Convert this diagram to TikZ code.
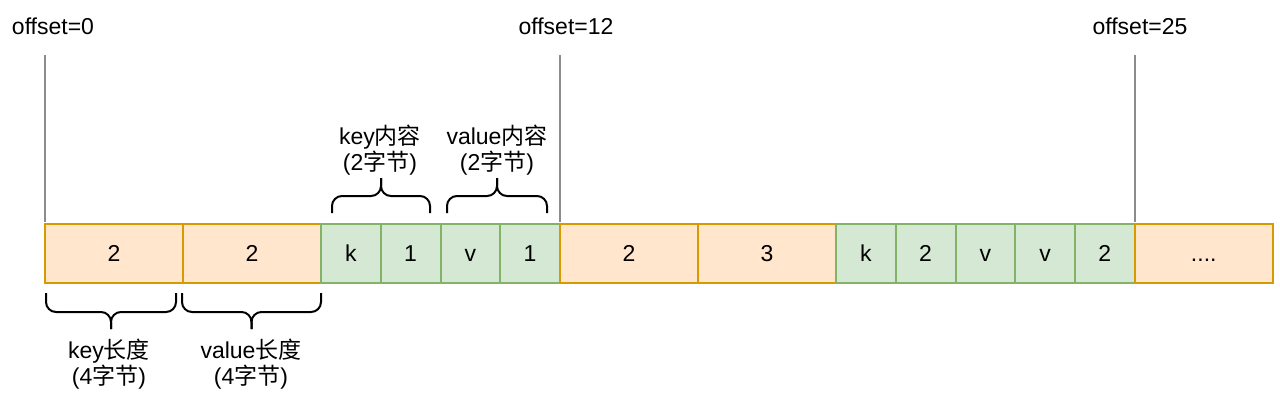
\documentclass[tikz,border=0pt]{standalone}
\usepackage{fontspec}
\setmainfont{Liberation Sans}
\newfontfamily\cjk{Noto Sans CJK SC}
\usepackage{xcolor}
\usepackage{tikz}
\usetikzlibrary{positioning}

\definecolor{lenfill}{HTML}{FFE6CC}
\definecolor{lenline}{HTML}{D79B00}
\definecolor{datfill}{HTML}{D5E8D4}
\definecolor{datline}{HTML}{82B366}
\definecolor{guidegray}{HTML}{8C8C8C}

% curly bracket: x1, x2, y of ends, y of bar, y of tip
\newcommand{\curlybracket}[5]{%
  \draw[bracket] (#1,#3) -- (#1,#4) -- ({(#1+#2)/2},#4) -- ({(#1+#2)/2},#5);
  \draw[bracket] (#2,#3) -- (#2,#4) -- ({(#1+#2)/2},#4) -- ({(#1+#2)/2},#5);
}

\begin{document}
\begin{tikzpicture}[
  x=1pt, y=-1pt,
  cell/.style={rectangle, draw, line width=2pt, inner sep=0pt, outer sep=0pt, minimum height=59pt, text height=16.5pt, text depth=0pt, font=\fontsize{23}{26}\selectfont},
  lencell/.style={cell, fill=lenfill, draw=lenline, minimum width=138pt},
  datcell/.style={cell, fill=datfill, draw=datline, minimum width=59.75pt},
  note/.style={align=center, inner sep=0pt, font=\fontsize{23}{26}\selectfont},
  guide/.style={draw=guidegray, line width=1.5pt},
  bracket/.style={draw=black, line width=2pt, rounded corners=10pt}
]
\useasboundingbox (0,0) rectangle (1280,407);

% First entry
\node[lencell, anchor=north west] (c1) at (45,224) {2};
\node[lencell, right=0pt of c1] (c2) {2};
\node[datcell, right=0pt of c2] (c3) {k};
\node[datcell, right=0pt of c3] (c4) {1};
\node[datcell, right=0pt of c4] (c5) {v};
\node[datcell, right=0pt of c5] (c6) {1};

% Second entry
\node[lencell, right=0pt of c6] (c7) {2};
\node[lencell, right=0pt of c7] (c8) {3};
\node[datcell, right=0pt of c8] (c9) {k};
\node[datcell, right=0pt of c9] (c10) {2};
\node[datcell, right=0pt of c10] (c11) {v};
\node[datcell, right=0pt of c11] (c12) {v};
\node[datcell, right=0pt of c12] (c13) {2};
\node[lencell, right=0pt of c13] (c14) {....};

% Offsets
\node[note] (off0) at (53,26) {offset=0};
\node[note] (off12) at (566,26) {offset=12};
\node[note] (off25) at (1140,26) {offset=25};

\coordinate (g0) at (c1.north west |- 0,55);
\coordinate (g12) at (c7.north west |- 0,55);
\coordinate (g25) at (c14.north west |- 0,55);
\draw[guide] (g0) -- ([yshift=2pt]c1.north west);
\draw[guide] (g12) -- ([yshift=2pt]c7.north west);
\draw[guide] (g25) -- ([yshift=2pt]c14.north west);

% Brackets above
\curlybracket{332}{430}{213}{196}{178}
\curlybracket{447}{547}{213}{196}{178}
\node[note] (kdat) at (380,150) {key{\cjk 内容}\\(2{\cjk 字节})};
\node[note] (vdat) at (497,150) {value{\cjk 内容}\\(2{\cjk 字节})};

% Brackets below
\curlybracket{46}{176}{293}{312}{329}
\curlybracket{182}{321}{293}{312}{329}
\node[note] (klen) at (109,364) {key{\cjk 长度}\\(4{\cjk 字节})};
\node[note] (vlen) at (251,364) {value{\cjk 长度}\\(4{\cjk 字节})};

\end{tikzpicture}
\end{document}
